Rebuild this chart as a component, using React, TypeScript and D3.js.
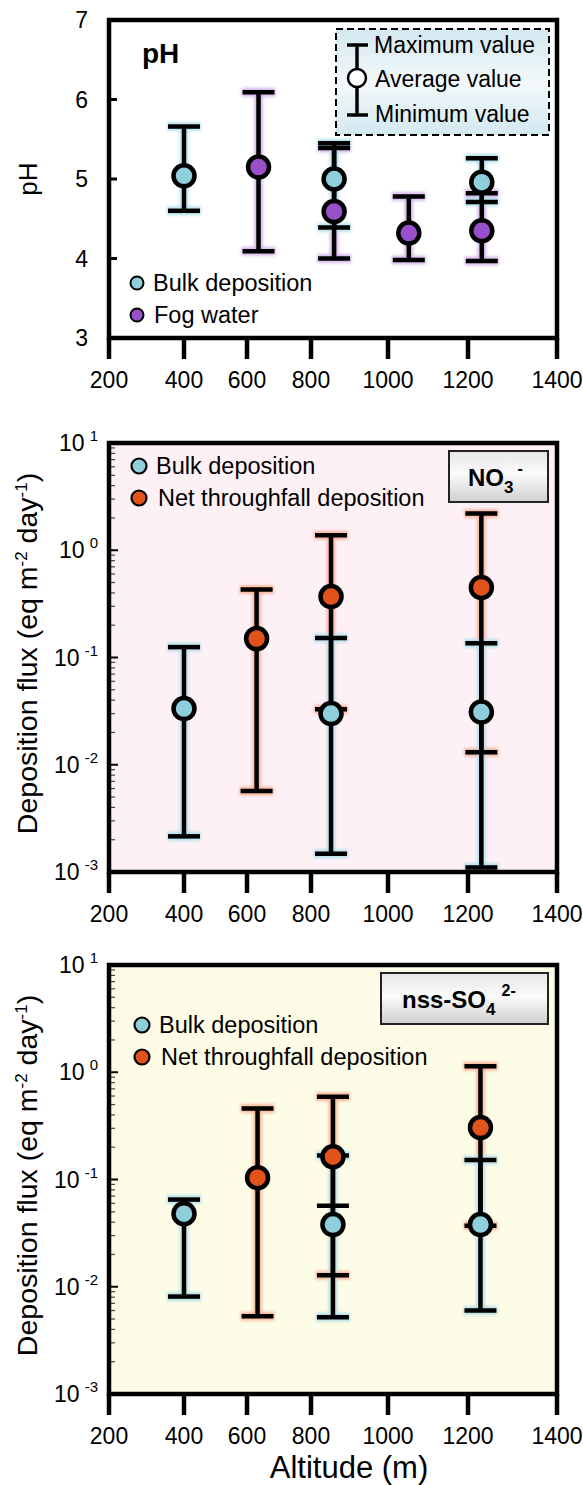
import React from "react";
import * as d3 from "d3";

// ---------- data ----------
const ALT_TICKS = [200, 400, 600, 800, 1000, 1200, 1400];
const PH_TICKS = [3, 4, 5, 6, 7];
const LOG_EXPONENTS = [1, 0, -1, -2, -3];

// pH panel
const phBulkAlt = [400, 860, 1231];
const phBulkMax = [5.66, 5.45, 5.26];
const phBulkMean = [5.04, 5.0, 4.96];
const phBulkMin = [4.6, 4.39, 4.71];

const phFogAlt = [636, 860, 1052, 1231];
const phFogMax = [6.09, 5.39, 4.78, 4.82];
const phFogMean = [5.15, 4.59, 4.32, 4.35];
const phFogMin = [4.09, 4.0, 3.98, 3.97];

// NO3- panel
const no3BulkAlt = [400, 852, 1230];
const no3BulkMax = [0.125, 0.152, 0.136];
const no3BulkMean = [0.0334, 0.03, 0.031];
const no3BulkMin = [0.00215, 0.00148, 0.0011];

const no3NetAlt = [630, 852, 1230];
const no3NetMax = [0.43, 1.38, 2.2];
const no3NetMean = [0.15, 0.37, 0.45];
const no3NetMin = [0.0057, 0.033, 0.0131];

// nss-SO4 2- panel
const so4BulkAlt = [400, 857, 1228];
const so4BulkMax = [0.065, 0.167, 0.152];
const so4BulkMean = [0.048, 0.038, 0.038];
const so4BulkMin = [0.0081, 0.0052, 0.006];

const so4NetAlt = [633, 857, 1228];
const so4NetMax = [0.46, 0.59, 1.14];
const so4NetMean = [0.104, 0.163, 0.305];
const so4NetMin = [0.0053, 0.0128, 0.037];

const so4ExtraCapAlt = [857];
const so4ExtraCapValue = [0.057];

// ---------- styling ----------
const FONT = "'Liberation Sans', Arial, Helvetica, sans-serif";
const BULK_FILL = "#8fcfdc";
const FOG_FILL = "#9a4fca";
const NET_FILL = "#e2531b";
const BULK_GLOW = "#a6dbe8";
const FOG_GLOW = "#cda6e6";
const NET_GLOW = "#f6a789";

const x = d3.scaleLinear().domain(ALT_TICKS).range([109, 184, 247, 311, 388, 468, 557]);
const X0 = x(200);
const X1 = x(1400);

type Series = { alt: number[]; max: number[]; mean: number[]; min: number[]; fill: string; glow: string };

function Bars({ series, y }: { series: Series[]; y: (v: number) => number }) {
  const cap = 16;
  return (
    <g>
      <g filter="url(#glow)" opacity={0.85}>
        {series.map((s, si) =>
          s.alt.map((a, i) => (
            <g key={`g${si}-${i}`} stroke={s.glow} strokeWidth={8.5} fill="none">
              <line x1={x(a)} x2={x(a)} y1={y(s.max[i])} y2={y(s.min[i])} />
              <line x1={x(a) - cap - 1} x2={x(a) + cap + 1} y1={y(s.max[i])} y2={y(s.max[i])} />
              <line x1={x(a) - cap - 1} x2={x(a) + cap + 1} y1={y(s.min[i])} y2={y(s.min[i])} />
            </g>
          ))
        )}
      </g>
      {series.map((s, si) =>
        s.alt.map((a, i) => (
          <g key={`b${si}-${i}`} stroke="#000" strokeWidth={4.5} fill="none">
            <line x1={x(a)} x2={x(a)} y1={y(s.max[i])} y2={y(s.min[i])} />
            <line x1={x(a) - cap} x2={x(a) + cap} y1={y(s.max[i])} y2={y(s.max[i])} />
            <line x1={x(a) - cap} x2={x(a) + cap} y1={y(s.min[i])} y2={y(s.min[i])} />
          </g>
        ))
      )}
      {series.map((s, si) =>
        s.alt.map((a, i) => (
          <circle key={`c${si}-${i}`} cx={x(a)} cy={y(s.mean[i])} r={10.5} fill={s.fill} stroke="#000" strokeWidth={4.5} />
        ))
      )}
    </g>
  );
}

function XAxis({ yb }: { yb: number }) {
  return (
    <g>
      {ALT_TICKS.map((t) => (
        <g key={t}>
          <line x1={x(t)} x2={x(t)} y1={yb} y2={yb + 21} stroke="#000" strokeWidth={4.5} />
          <text x={x(t)} y={yb + 50} textAnchor="middle" fontSize={23} fontFamily={FONT} fill="#000">
            {t}
          </text>
        </g>
      ))}
    </g>
  );
}

function LogPanel({ top, bottom, bg, series, extraAlt, extraVal, title, legendX, legendY, box }: any) {
  const y = d3.scaleLog().domain([1e-3, 1e1]).range([bottom, top]);
  const minors: number[] = [];
  for (let e = -3; e < 1; e++) for (let k = 2; k <= 9; k++) minors.push(k * Math.pow(10, e));
  const mid = (top + bottom) / 2;
  return (
    <g>
      <rect x={X0} y={top} width={X1 - X0} height={bottom - top} fill={bg} />
      {minors.map((m) => (
        <line key={m} x1={X0} x2={X0 + 6} y1={y(m)} y2={y(m)} stroke="#444" strokeWidth={1.2} />
      ))}
      {LOG_EXPONENTS.map((e) => (
        <line key={e} x1={X0} x2={X0 + 9} y1={y(Math.pow(10, e))} y2={y(Math.pow(10, e))} stroke="#000" strokeWidth={2} />
      ))}
      <Bars series={series} y={y} />
      {extraAlt &&
        extraAlt.map((a: number, i: number) => (
          <line key={i} x1={x(a) - 16} x2={x(a) + 16} y1={y(extraVal[i])} y2={y(extraVal[i])} stroke="#000" strokeWidth={4.5} />
        ))}
      <rect x={X0} y={top} width={X1 - X0} height={bottom - top} fill="none" stroke="#000" strokeWidth={4.5} />
      <XAxis yb={bottom} />
      {LOG_EXPONENTS.map((e) => (
        <text key={e} x={98} y={y(Math.pow(10, e)) + 8} textAnchor="end" fontSize={23} fontFamily={FONT} fill="#000">
          10
          <tspan dx={5} dy={-10} fontSize={15}>
            {e}
          </tspan>
        </text>
      ))}
      <text transform={`translate(37,${mid - 4}) rotate(-90)`} textAnchor="middle" fontSize={28.5} fontFamily={FONT} fill="#000">
        Deposition flux (eq m
        <tspan dy={-10} fontSize={17}>-2</tspan>
        <tspan dy={10}> day</tspan>
        <tspan dy={-10} fontSize={17}>-1</tspan>
        <tspan dy={10}>)</tspan>
      </text>
      {/* legend */}
      <circle cx={legendX} cy={legendY} r={7.5} fill={BULK_FILL} stroke="#000" strokeWidth={2.2} />
      <text x={legendX + 17} y={legendY + 8} fontSize={23.5} fontFamily={FONT} fill="#000">
        Bulk deposition
      </text>
      <circle cx={legendX} cy={legendY + 32} r={7.5} fill={NET_FILL} stroke="#000" strokeWidth={2.2} />
      <text x={legendX + 19} y={legendY + 40} fontSize={23.5} fontFamily={FONT} fill="#000">
        Net throughfall deposition
      </text>
      {/* title box */}
      <rect x={box.x} y={box.y} width={box.w} height={box.h} fill="url(#boxGrad)" stroke="#222" strokeWidth={2} />
      {title}
    </g>
  );
}

export default function App() {
  const yPH = d3.scaleLinear().domain([3, 7]).range([338, 20]);

  const phSeries: Series[] = [
    { alt: phFogAlt, max: phFogMax, mean: phFogMean, min: phFogMin, fill: FOG_FILL, glow: FOG_GLOW },
    { alt: phBulkAlt, max: phBulkMax, mean: phBulkMean, min: phBulkMin, fill: BULK_FILL, glow: BULK_GLOW },
  ];
  const no3Series: Series[] = [
    { alt: no3NetAlt, max: no3NetMax, mean: no3NetMean, min: no3NetMin, fill: NET_FILL, glow: NET_GLOW },
    { alt: no3BulkAlt, max: no3BulkMax, mean: no3BulkMean, min: no3BulkMin, fill: BULK_FILL, glow: BULK_GLOW },
  ];
  const so4Series: Series[] = [
    { alt: so4NetAlt, max: so4NetMax, mean: so4NetMean, min: so4NetMin, fill: NET_FILL, glow: NET_GLOW },
    { alt: so4BulkAlt, max: so4BulkMax, mean: so4BulkMean, min: so4BulkMin, fill: BULK_FILL, glow: BULK_GLOW },
  ];

  return (
    <svg width={583} height={1485} style={{ position: "absolute", left: 0, top: 0, background: "#fff" }} fontFamily={FONT}>
      <defs>
        <filter id="glow" x="-50%" y="-50%" width="200%" height="200%">
          <feGaussianBlur stdDeviation={1.6} />
        </filter>
        <linearGradient id="legGrad" x1="0" y1="0" x2="0" y2="1">
          <stop offset="0" stopColor="#d3e8f0" />
          <stop offset="0.5" stopColor="#f3f9fb" />
          <stop offset="1" stopColor="#d3e8f0" />
        </linearGradient>
        <linearGradient id="boxGrad" x1="0" y1="0" x2="0" y2="1">
          <stop offset="0" stopColor="#e6e6e6" />
          <stop offset="0.45" stopColor="#fbfbfb" />
          <stop offset="1" stopColor="#cfcfcf" />
        </linearGradient>
      </defs>

      {/* ---------- pH panel ---------- */}
      <g>
        {[4, 5, 6].map((t) => (
          <line key={t} x1={X0} x2={X0 + 8} y1={yPH(t)} y2={yPH(t)} stroke="#000" strokeWidth={3} />
        ))}
        <Bars series={phSeries} y={yPH} />
        <rect x={X0} y={yPH(7)} width={X1 - X0} height={yPH(3) - yPH(7)} fill="none" stroke="#000" strokeWidth={4.5} />
        <XAxis yb={yPH(3)} />
        {PH_TICKS.map((t) => (
          <text key={t} x={88} y={yPH(t) + 8} textAnchor="end" fontSize={23} fontFamily={FONT} fill="#000">
            {t}
          </text>
        ))}
        <text transform={`translate(37,${yPH(5)}) rotate(-90)`} textAnchor="middle" fontSize={26} fontFamily={FONT}>
          pH
        </text>
        <text x={142} y={63} fontSize={28} fontWeight="bold" fontFamily={FONT}>
          pH
        </text>
        {/* min/avg/max legend */}
        <rect x={336} y={29} width={213} height={106} fill="url(#legGrad)" stroke="#000" strokeWidth={2} strokeDasharray="7,4" />
        <line x1={357} x2={357} y1={45} y2={115} stroke="#000" strokeWidth={3.5} />
        <line x1={347} x2={368} y1={45} y2={45} stroke="#000" strokeWidth={3.5} />
        <line x1={347} x2={368} y1={115} y2={115} stroke="#000" strokeWidth={3.5} />
        <circle cx={357} cy={78} r={9} fill="#fff" stroke="#000" strokeWidth={2.5} />
        <text x={374} y={53} fontSize={23} fontFamily={FONT}>Maximum value</text>
        <text x={375} y={87} fontSize={23} fontFamily={FONT}>Average value</text>
        <text x={375} y={122} fontSize={23} fontFamily={FONT}>Minimum value</text>
        {/* series legend */}
        <circle cx={137} cy={283} r={6.5} fill={BULK_FILL} stroke="#000" strokeWidth={2} />
        <text x={153} y={291} fontSize={23.5} fontFamily={FONT}>Bulk deposition</text>
        <circle cx={137} cy={315} r={6.5} fill={FOG_FILL} stroke="#000" strokeWidth={2} />
        <text x={154} y={323} fontSize={23.5} fontFamily={FONT}>Fog water</text>
      </g>

      {/* ---------- NO3- panel ---------- */}
      <LogPanel
        top={443}
        bottom={872}
        bg="#fdf1f6"
        series={no3Series}
        legendX={139}
        legendY={466}
        box={{ x: 449, y: 451, w: 99, h: 51 }}
        title={
          <text x={468} y={486} fontSize={24} fontWeight="bold" fontFamily={FONT}>
            NO
            <tspan dy={7} fontSize={17}>3</tspan>
            <tspan dx={4} dy={-19} fontSize={16}>-</tspan>
          </text>
        }
      />

      {/* ---------- nss-SO4 2- panel ---------- */}
      <LogPanel
        top={965}
        bottom={1394}
        bg="#fdfce7"
        series={so4Series}
        extraAlt={so4ExtraCapAlt}
        extraVal={so4ExtraCapValue}
        legendX={142}
        legendY={1025}
        box={{ x: 381, y: 973, w: 167, h: 51 }}
        title={
          <text x={402} y={1008} fontSize={24} fontWeight="bold" fontFamily={FONT}>
            nss-SO
            <tspan dy={7} fontSize={17}>4</tspan>
            <tspan dx={6} dy={-19} fontSize={16}>2-</tspan>
          </text>
        }
      />
      <text x={349} y={1478} textAnchor="middle" fontSize={31} fontFamily={FONT}>
        Altitude (m)
      </text>
    </svg>
  );
}
